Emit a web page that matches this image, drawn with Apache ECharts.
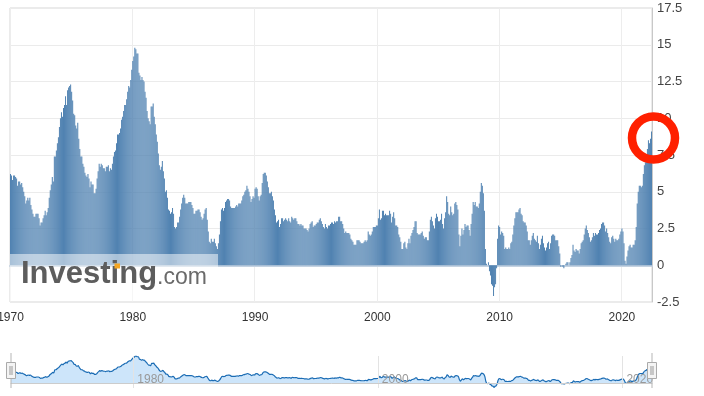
<!DOCTYPE html>
<html><head><meta charset="utf-8">
<script src="https://cdn.jsdelivr.net/npm/echarts@6/dist/echarts.min.js"></script>
<style>html,body{margin:0;padding:0;background:#fff}#c{width:704px;height:396px}</style>
</head><body><div id="c"></div>
<script>
const startYear = 1970;
const cpi1970s = [
 6.2,6.1,5.8,6.1,6.1,6.0,5.9,5.4,5.7,5.7,5.5,5.6,
 5.3,5.0,4.7,4.2,4.4,4.6,4.4,4.6,4.1,3.8,3.5,3.3,
 3.3,3.5,3.5,3.5,3.2,2.7,2.9,2.9,3.2,3.4,3.7,3.4,
 3.6,3.9,4.6,5.1,5.5,6.0,5.7,7.4,7.4,7.8,8.3,8.7,
 9.4,10.0,10.4,10.1,10.7,10.9,11.5,10.9,11.9,12.1,12.2,12.3,
 11.8,11.2,10.3,10.2,9.5,9.3,9.7,8.6,7.9,7.4,7.4,6.9,
 6.7,6.3,6.1,6.0,6.2,5.9,5.3,5.7,5.5,5.5,4.9,4.9,
 5.2,5.9,6.4,6.9,6.7,6.9,6.8,6.6,6.6,6.4,6.7,6.7,
 6.8,6.4,6.6,6.5,6.9,7.4,7.7,7.8,8.3,8.9,8.9,9.0,
 9.3,9.9,10.1,10.5,10.9,10.9,11.3,11.8,12.2,12.1,12.6,13.3
];
const cpi1980s = [
 13.9,14.2,14.8,14.7,14.4,14.4,13.1,12.9,12.6,12.8,12.6,12.5,
 11.8,11.4,10.5,10.0,9.8,9.6,10.8,10.8,11.0,10.1,9.6,8.9,
 8.4,7.6,6.8,6.5,6.7,7.1,6.4,5.9,5.0,5.1,4.6,3.8,
 3.7,3.5,3.6,3.9,3.5,2.6,2.5,2.6,2.9,2.9,3.3,3.8,
 4.2,4.6,4.8,4.6,4.2,4.2,4.2,4.3,4.3,4.3,4.1,3.9,
 3.5,3.5,3.7,3.7,3.8,3.8,3.6,3.3,3.1,3.2,3.5,3.8,
 3.9,3.1,2.3,1.6,1.5,1.8,1.6,1.6,1.8,1.5,1.3,1.1,
 1.5,2.1,3.0,3.8,3.9,3.7,3.9,4.3,4.4,4.5,4.5,4.4,
 4.0,3.9,3.9,3.9,3.9,4.0,4.1,4.0,4.2,4.2,4.2,4.4,
 4.7,4.8,5.0,5.1,5.4,5.2,5.0,4.7,4.3,4.5,4.7,4.6
];
const cpi1990s = [
 5.2,5.3,5.2,4.7,4.4,4.7,4.8,5.6,6.2,6.3,6.3,6.1,
 5.7,5.3,4.9,4.9,5.0,4.7,4.4,3.8,3.4,2.9,3.0,3.1,
 2.6,2.8,3.2,3.2,3.0,3.1,3.2,3.1,3.0,3.2,3.0,2.9,
 3.3,3.2,3.1,3.2,3.2,3.0,2.8,2.8,2.7,2.8,2.7,2.7,
 2.5,2.5,2.5,2.4,2.3,2.5,2.8,2.9,3.0,2.6,2.7,2.7,
 2.8,2.9,2.9,3.1,3.2,3.0,2.8,2.6,2.5,2.8,2.6,2.5,
 2.7,2.7,2.8,2.9,2.9,2.8,3.0,2.9,3.0,3.0,3.3,3.3,
 3.0,3.0,2.8,2.5,2.2,2.3,2.2,2.2,2.2,2.1,1.8,1.7,
 1.6,1.4,1.4,1.4,1.7,1.7,1.7,1.6,1.5,1.5,1.5,1.6,
 1.7,1.6,1.7,2.3,2.1,2.0,2.1,2.3,2.6,2.6,2.6,2.7
];
const cpi2000s = [
 2.7,3.2,3.8,3.1,3.2,3.7,3.7,3.4,3.5,3.4,3.4,3.4,
 3.7,3.5,2.9,3.3,3.6,3.2,2.7,2.7,2.6,2.1,1.9,1.6,
 1.1,1.1,1.5,1.6,1.2,1.1,1.5,1.8,1.5,2.0,2.2,2.4,
 2.6,3.0,3.0,2.2,2.1,2.1,2.1,2.2,2.3,2.0,1.8,1.9,
 1.9,1.7,1.7,2.3,3.1,3.3,3.0,2.7,2.5,3.2,3.5,3.3,
 3.0,3.0,3.1,3.5,2.8,2.5,3.2,3.6,4.7,4.3,3.5,3.4,
 4.0,3.6,3.4,3.5,4.2,4.3,4.1,3.8,2.1,1.3,2.0,2.5,
 2.1,2.4,2.8,2.6,2.7,2.7,2.4,2.0,2.8,3.5,4.3,4.1,
 4.3,4.0,4.0,3.9,4.2,5.0,5.6,5.4,4.9,3.7,1.1,0.1,
 0.0,0.2,-0.4,-0.7,-1.3,-1.4,-2.1,-1.5,-1.3,-0.2,1.8,2.7
];
const cpi2010s = [
 2.6,2.1,2.3,2.2,2.0,1.1,1.2,1.1,1.1,1.2,1.1,1.5,
 1.6,2.1,2.7,3.2,3.6,3.6,3.6,3.8,3.9,3.5,3.4,3.0,
 2.9,2.9,2.7,2.3,1.7,1.7,1.4,1.7,2.0,2.2,1.8,1.7,
 1.6,2.0,1.5,1.1,1.4,1.8,2.0,1.5,1.2,1.0,1.2,1.5,
 1.6,1.1,1.5,2.0,2.1,2.1,2.0,1.7,1.7,1.7,1.3,0.8,
 -0.1,0.0,-0.1,-0.2,0.0,0.1,0.2,0.2,0.0,0.2,0.5,0.7,
 1.4,1.0,0.9,1.1,1.0,1.0,0.8,1.1,1.5,1.6,1.7,2.1,
 2.5,2.7,2.4,2.2,1.9,1.6,1.7,1.9,2.2,2.0,2.2,2.1,
 2.1,2.2,2.4,2.5,2.8,2.9,2.9,2.7,2.3,2.5,2.2,1.9,
 1.6,1.5,1.9,2.0,1.8,1.6,1.8,1.7,1.7,1.8,2.1,2.3
];
const cpi2020s = [
 2.5,2.3,1.5,0.3,0.1,0.6,1.0,1.3,1.4,1.2,1.2,1.4,
 1.4,1.7,2.6,4.2,5.0,5.4,5.4,5.3,5.4,6.2,6.8,7.0,
 7.5,7.9,8.5,8.3,8.6,9.1
];
const xTickYears = [1970,1980,1990,2000,2010,2020];
const navTickYears = [1980,2000,2020];
const yMin = -2.5, yMax = 17.5, yStep = 2.5;

const values = [].concat(cpi1970s,cpi1980s,cpi1990s,cpi2000s,cpi2010s,cpi2020s);
const categories = values.map((v,i)=> (startYear+Math.floor(i/12)) + '-' + String(i%12+1).padStart(2,'0'));
const isTick = (list) => (idx, val) => val.slice(5)==='01' && list.indexOf(+val.slice(0,4))>=0;
const FONT = '"Liberation Sans", Arial, sans-serif';

const chart = echarts.init(document.getElementById('c'), null, {renderer:'canvas'});
chart.setOption({
  animation:false,
  backgroundColor:'#fff',
  textStyle:{fontFamily:FONT},
  grid:[
    {left:10,right:52,top:8,bottom:94,outerBoundsMode:'none',containLabel:false,show:true,borderColor:'#d6d6d6',borderWidth:1,backgroundColor:'transparent'},
    {left:11,right:52,top:356,bottom:8,outerBoundsMode:'none',containLabel:false}
  ],
  xAxis:[
    {type:'category',gridIndex:0,data:categories,boundaryGap:true,
     axisLine:{show:true,lineStyle:{color:'#c4d2e1',width:2}},
     axisTick:{show:false},
     axisLabel:{interval:isTick(xTickYears),formatter:v=>v.slice(0,4),color:'#333',fontSize:12,margin:10,fontFamily:FONT,hideOverlap:false},
     splitLine:{show:true,interval:isTick(xTickYears),lineStyle:{color:'#ededed',width:1}}},
    {type:'category',gridIndex:1,data:categories,boundaryGap:false,z:10,
     axisLine:{show:true,lineStyle:{color:'#cccccc',width:1}},
     axisTick:{show:false},
     axisLabel:{inside:true,interval:isTick(navTickYears),formatter:v=>v.slice(0,4),color:'#999',fontSize:12,margin:2,align:'left',padding:[0,0,0,4],fontFamily:FONT,hideOverlap:false},
     splitLine:{show:true,interval:isTick(navTickYears),lineStyle:{color:'#e3e3e3',width:1}}}
  ],
  yAxis:[
    {type:'value',gridIndex:0,position:'right',min:yMin,max:yMax,interval:yStep,
     axisLine:{show:true,lineStyle:{color:'#c8c8c8',width:1}},
     axisTick:{show:false},
     axisLabel:{color:'#444',fontSize:13,margin:5,fontFamily:FONT},
     splitLine:{show:true,lineStyle:{color:'#ebebeb',width:1}}},
    {type:'value',gridIndex:1,min:-2.4,max:14.8,show:false,splitLine:{show:false}}
  ],
  series:[
    {type:'bar',xAxisIndex:0,yAxisIndex:0,data:values,barCategoryGap:'12%',
     itemStyle:{color:'#5082b1'}},
    {type:'line',xAxisIndex:1,yAxisIndex:1,data:values,showSymbol:false,smooth:0.3,z:1,
     lineStyle:{color:'#1b6cb4',width:1.2},areaStyle:{color:'#cde5fa',opacity:1}}
  ],
  graphic:[
    {type:'rect',shape:{x:10,y:254,width:208,height:47},style:{fill:'rgba(255,255,255,0.5)'},z:100},
    {type:'text',x:21,y:259,style:{text:'Investing',font:'bold 31px '+FONT,fill:'#5d5d5d',verticalAlign:'top'},z:101},
    {type:'rect',shape:{x:114.5,y:263.5,width:5.5,height:5},style:{fill:'#f5a623'},z:102},
    {type:'text',x:157,y:266,style:{text:'.com',font:'23px '+FONT,fill:'#6a6a6a',verticalAlign:'top'},z:101},
    {type:'circle',shape:{cx:653.5,cy:138,r:21.5},style:{fill:'none',stroke:'#ff2000',lineWidth:8.5},z:200},
    {type:'line',shape:{x1:11,y1:353,x2:11,y2:388},style:{stroke:'#b5b5b5',lineWidth:1},z:150},
    {type:'rect',shape:{x:6.5,y:362.5,width:9,height:16},style:{fill:'#f4f4f4',stroke:'#aaa',lineWidth:1},z:151},
    {type:'line',shape:{x1:10,y1:366,x2:10,y2:375},style:{stroke:'#999',lineWidth:1},z:152},
    {type:'line',shape:{x1:12,y1:366,x2:12,y2:375},style:{stroke:'#999',lineWidth:1},z:152},
    {type:'line',shape:{x1:652,y1:353,x2:652,y2:388},style:{stroke:'#b5b5b5',lineWidth:1},z:150},
    {type:'rect',shape:{x:647.5,y:362.5,width:9,height:16},style:{fill:'#f4f4f4',stroke:'#aaa',lineWidth:1},z:151},
    {type:'line',shape:{x1:651,y1:366,x2:651,y2:375},style:{stroke:'#999',lineWidth:1},z:152},
    {type:'line',shape:{x1:653,y1:366,x2:653,y2:375},style:{stroke:'#999',lineWidth:1},z:152}
  ]
});
</script></body></html>
